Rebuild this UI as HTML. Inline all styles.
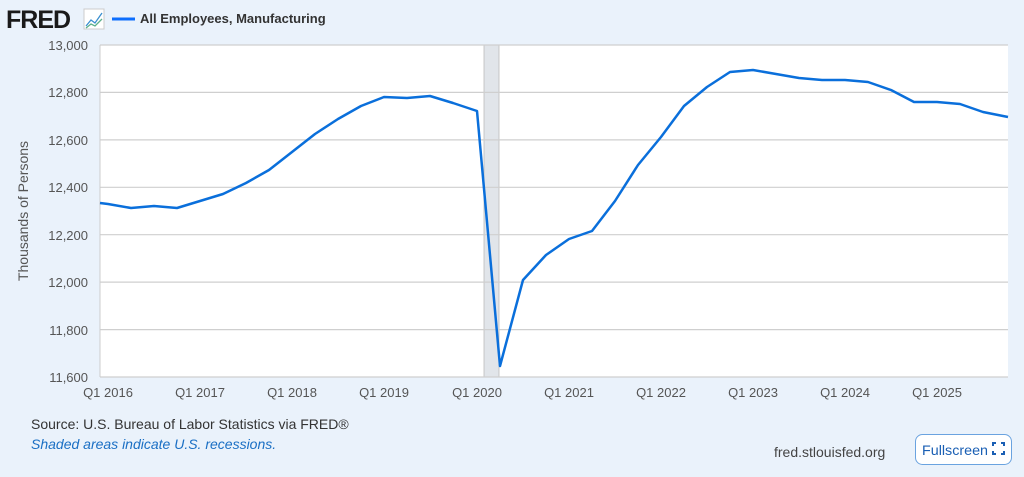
<!DOCTYPE html>
<html><head><meta charset="utf-8"><style>
body{margin:0;width:1024px;height:477px;background:#eaf2fb;font-family:"Liberation Sans",sans-serif;overflow:hidden}
</style></head><body>
<svg width="1024" height="477" xmlns="http://www.w3.org/2000/svg" style="position:absolute;left:0;top:0">
<text x="6" y="28" font-size="25" font-weight="bold" fill="#1a1a1a" letter-spacing="-1">FRED</text>
<rect x="84" y="9" width="20" height="20" fill="#fff" stroke="#ccc"/>
<polyline points="86,26 91,20 95,23 102,13" fill="none" stroke="#3a8fd0" stroke-width="1.3"/>
<polyline points="86,28 91,24 95,26 102,19" fill="none" stroke="#5cb08a" stroke-width="1.3"/>
<line x1="112" y1="19" x2="135" y2="19" stroke="#0d6efd" stroke-width="3"/>
<text x="140" y="23" font-size="13" font-weight="bold" fill="#333">All Employees, Manufacturing</text>
<rect x="100" y="45" width="908" height="332" fill="#fff"/>
<rect x="484" y="45" width="15" height="332" fill="#e1e5ea" stroke="#bbb" stroke-width="0.8"/>
<g stroke="#cfcfcf" stroke-width="1.2">
<line x1="100" y1="45" x2="1008" y2="45"/><line x1="100" y1="92.4" x2="1008" y2="92.4"/>
<line x1="100" y1="139.9" x2="1008" y2="139.9"/><line x1="100" y1="187.3" x2="1008" y2="187.3"/>
<line x1="100" y1="234.7" x2="1008" y2="234.7"/><line x1="100" y1="282.1" x2="1008" y2="282.1"/>
<line x1="100" y1="329.6" x2="1008" y2="329.6"/><line x1="100" y1="377" x2="1008" y2="377"/>
</g>
<line x1="100" y1="45" x2="100" y2="377" stroke="#ccc"/>
<g font-size="13" fill="#555" text-anchor="end">
<text x="88" y="50">13,000</text><text x="88" y="97">12,800</text><text x="88" y="145">12,600</text>
<text x="88" y="192">12,400</text><text x="88" y="240">12,200</text><text x="88" y="287">12,000</text>
<text x="88" y="335">11,800</text><text x="88" y="382">11,600</text>
</g>
<text transform="translate(28,211) rotate(-90)" font-size="14" fill="#555" text-anchor="middle">Thousands of Persons</text>
<g font-size="13" fill="#555" text-anchor="middle">
<text x="108" y="397">Q1 2016</text><text x="200" y="397">Q1 2017</text><text x="292" y="397">Q1 2018</text>
<text x="384" y="397">Q1 2019</text><text x="477" y="397">Q1 2020</text><text x="569" y="397">Q1 2021</text>
<text x="661" y="397">Q1 2022</text><text x="753" y="397">Q1 2023</text><text x="845" y="397">Q1 2024</text>
<text x="937" y="397">Q1 2025</text>
</g>
<polyline fill="none" stroke="#0a6fdb" stroke-width="2.5" stroke-linejoin="round" points="100,203 108,204 131,208 154,206 177,208 200,201 223,194 246,183 269,170 292,152 315,134 338,119 361,106 384,97 407,98 430,96 453,103 477,111 500,366 523,280 546,255 569,239 592,231 615,201 638,165 661,137 684,106 707,87 730,72 753,70 776,74 799,78 822,80 845,80 868,82 891,90 914,102 937,102 960,104 983,112 1008,117"/>
<text x="31" y="429" font-size="14" fill="#333">Source: U.S. Bureau of Labor Statistics via FRED®</text>
<text x="31" y="449" font-size="14" fill="#1a6fc4" font-style="italic">Shaded areas indicate U.S. recessions.</text>
<text x="774" y="457" font-size="14" fill="#444">fred.stlouisfed.org</text>
<rect x="915.5" y="434.5" width="96" height="30" rx="7" fill="#fff" stroke="#6aa3e0"/>
<text x="922" y="455" font-size="14" fill="#1a5fb4" textLength="66" lengthAdjust="spacingAndGlyphs">Fullscreen</text>
<g stroke="#1a5fb4" stroke-width="2" fill="none">
<polyline points="993,446 993,443 996,443"/><polyline points="1001,443 1004,443 1004,446"/>
<polyline points="993,451 993,454 996,454"/><polyline points="1001,454 1004,454 1004,451"/>
</g>
</svg>
</body></html>
